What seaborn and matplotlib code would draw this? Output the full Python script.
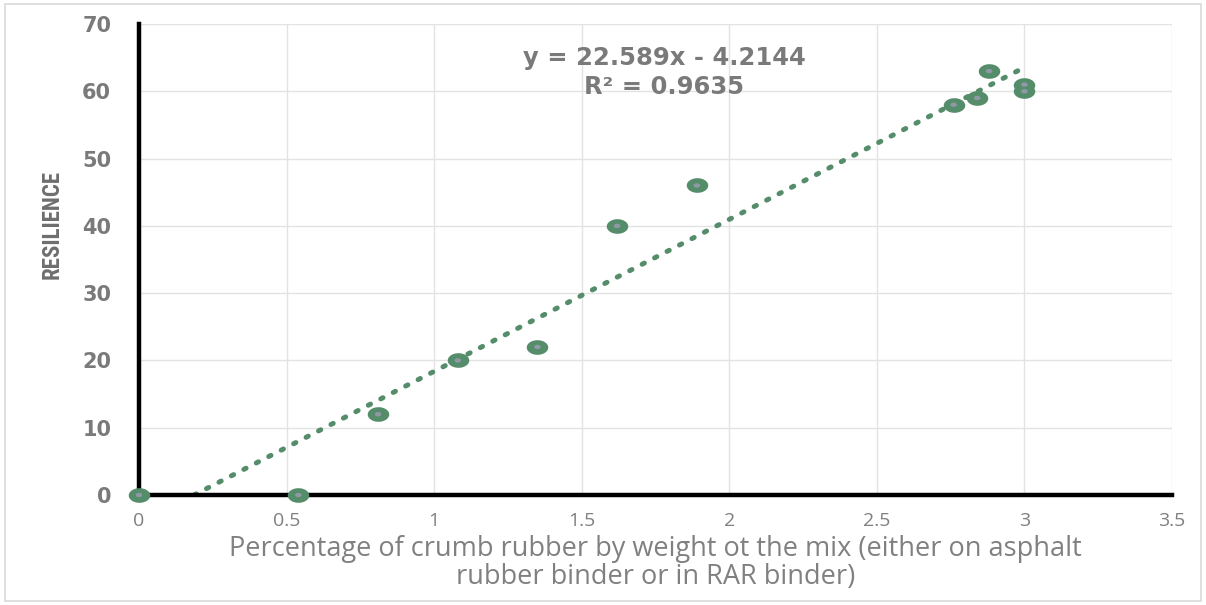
import numpy as np
import pandas as pd
import matplotlib
matplotlib.use("Agg")
import matplotlib.pyplot as plt
from matplotlib.path import Path
from matplotlib.patches import Rectangle
from matplotlib import font_manager
import seaborn as sns

# Crumb rubber content (% by weight of mix) and measured resilience
crumb_pct = [0.0, 0.54, 0.81, 1.08, 1.35, 1.62, 1.89, 2.76, 2.84, 2.88, 3.0, 3.0]
resilience = [0, 0, 12, 20, 22, 40, 46, 58, 59, 63, 60, 61]

# Linear trendline reported on the chart
slope = 22.589
intercept = -4.2144
r_squared = 0.9635

x_ticks = [0, 0.5, 1, 1.5, 2, 2.5, 3, 3.5]
y_ticks = [0, 10, 20, 30, 40, 50, 60, 70]

green = "#558D6B"

sns.set_theme(style="white")
plt.rcParams["font.family"] = ["DejaVu Sans"]

# Pick a narrow face for the vertical axis title if one is available
names = {f.name for f in font_manager.fontManager.ttflist}
narrow = [n for n in ["Liberation Sans Narrow", "DejaVu Sans Condensed", "Roboto Condensed"] if n in names]

df = pd.DataFrame({"crumb": crumb_pct, "res": resilience})

fig = plt.figure(figsize=(12.06, 6.05), dpi=100)
ax = fig.add_axes([139 / 1206, 1 - 495 / 605, (1172 - 139) / 1206, (495 - 24) / 605])

# Thin outer frame around the figure
fig.patches.append(Rectangle((0.004, 0.006), 0.992, 0.988, transform=fig.transFigure,
                             fill=False, edgecolor="#D9D9D9", linewidth=1.2))

ax.set_xlim(0, 3.5)
ax.set_ylim(0, 70)
ax.set_xticks(x_ticks)
ax.set_yticks(y_ticks)
ax.grid(True, color="#E3E3E3", linewidth=1.0)
ax.set_axisbelow(True)

# Trendline, only where it is above zero
x_start = -intercept / slope
xs = np.linspace(x_start, 2.98, 100)
sns.lineplot(x=xs, y=slope * xs + intercept, ax=ax, color=green, linewidth=3.6,
             linestyle=(0, (0.5, 2.3)), dash_capstyle="round", zorder=3)

# Elliptical markers with a grey centre
theta = np.linspace(0, 2 * np.pi, 60)
ellipse = Path(np.column_stack([np.cos(theta), 0.68 * np.sin(theta)]), closed=True)
sns.scatterplot(data=df, x="crumb", y="res", ax=ax, marker=ellipse, s=240,
                color=green, edgecolor=green, linewidth=0, zorder=5, clip_on=False)
sns.scatterplot(data=df, x="crumb", y="res", ax=ax, marker=ellipse, s=22,
                color="#8F99A6", edgecolor="none", linewidth=0, zorder=6, clip_on=False)

for side in ["top", "right"]:
    ax.spines[side].set_visible(False)
for side in ["left", "bottom"]:
    ax.spines[side].set_color("black")
    ax.spines[side].set_linewidth(3.2)
    ax.spines[side].set_zorder(4)

ax.tick_params(axis="both", length=0)
ax.tick_params(axis="x", pad=12, labelsize=14, labelcolor="#808080")
ax.tick_params(axis="y", pad=20, labelsize=15, labelcolor="#7A7A7A")
for lbl in ax.get_yticklabels():
    lbl.set_fontweight("bold")
ax.set_xticklabels([f"{t:g}" for t in x_ticks], family=["Open Sans", "DejaVu Sans"])

if narrow:
    ax.set_ylabel("RESILIENCE", fontsize=16.5, color="#6E6E6E", fontweight="bold",
                  family=narrow + ["DejaVu Sans"])
else:
    ax.set_ylabel("RESILIENCE", fontsize=16.5, color="#6E6E6E", fontweight="bold",
                  family=["DejaVu Sans"], fontstretch="condensed")
ax.yaxis.set_label_coords(-0.073, 0.575)
ax.set_xlabel("Percentage of crumb rubber by weight ot the mix (either on asphalt\n"
              "rubber binder or in RAR binder)", fontsize=19.5, color="#808080",
              family=["Open Sans", "DejaVu Sans"], labelpad=4, linespacing=1.0)

ax.text(1.78, 65.0, f"y = {slope}x - {abs(intercept)}", ha="center", va="center",
        fontsize=17.5, fontweight="bold", color="#7A7A7A")
ax.text(1.78, 60.6, f"R² = {r_squared}", ha="center", va="center",
        fontsize=17.5, fontweight="bold", color="#7A7A7A")

fig.savefig("out.png", dpi=100)
